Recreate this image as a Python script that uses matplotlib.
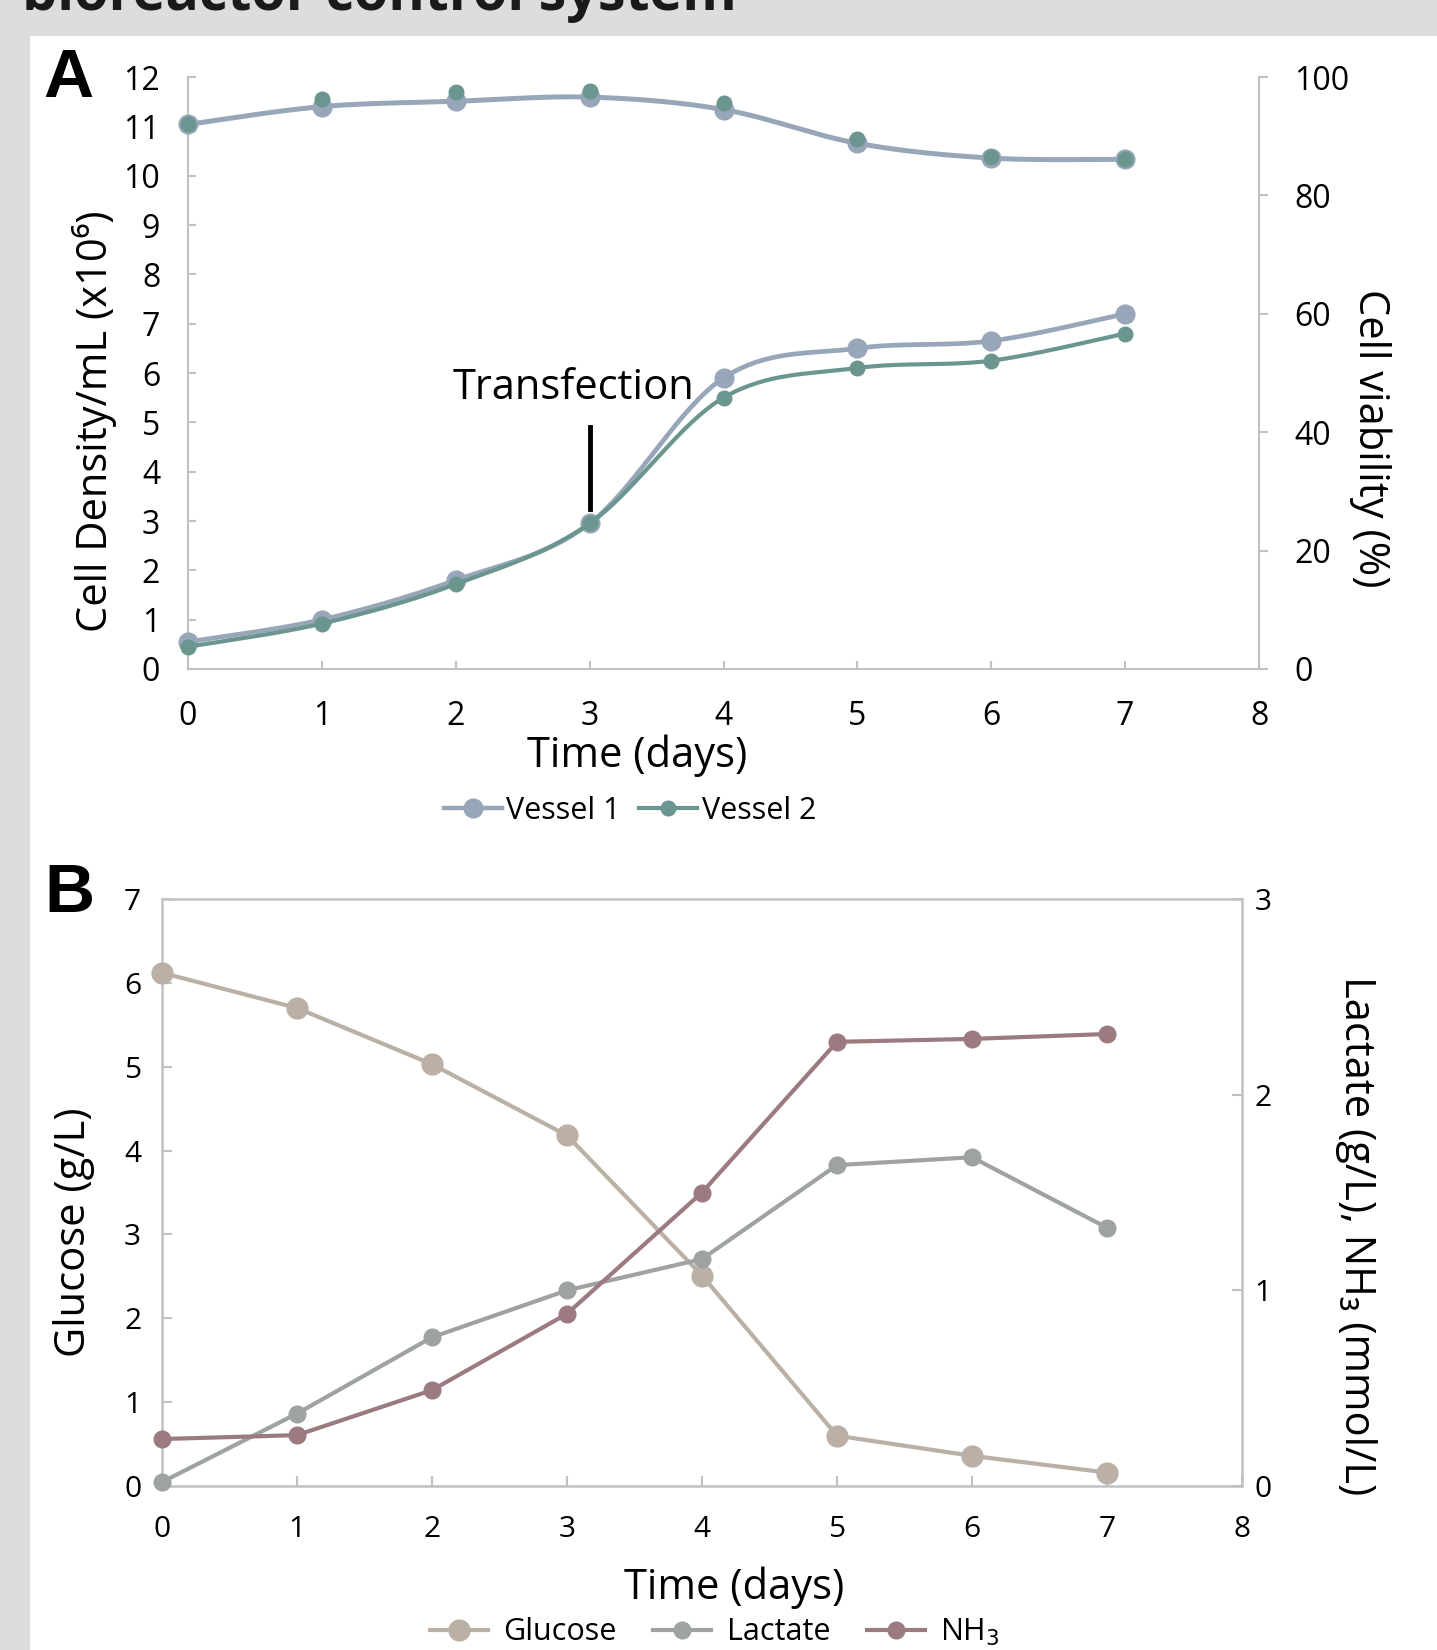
import numpy as np
import matplotlib.pyplot as plt
from matplotlib.patches import Rectangle
from matplotlib.lines import Line2D

plt.rcParams['font.family'] = ['Open Sans', 'DejaVu Sans']

# ---- data ----
days = [0, 1, 2, 3, 4, 5, 6, 7]

density_v1 = [0.55, 1.0, 1.8, 2.95, 5.9, 6.5, 6.65, 7.2]
density_v2 = [0.45, 0.92, 1.72, 2.95, 5.5, 6.1, 6.25, 6.8]
viab_v1 = [92.0, 95.0, 95.9, 96.6, 94.5, 88.8, 86.3, 86.1]
viab_v2 = [92.0, 96.3, 97.5, 97.7, 95.6, 89.5, 86.5, 86.1]

glucose = [6.12, 5.70, 5.03, 4.18, 2.51, 0.60, 0.36, 0.16]
lactate = [0.02, 0.37, 0.76, 1.0, 1.16, 1.64, 1.68, 1.32]
nh3 = [0.24, 0.26, 0.49, 0.88, 1.50, 2.27, 2.285, 2.31]

c_v1 = '#97A6B8'
c_v2 = '#6B968F'
c_glu = '#BBB0A5'
c_lac = '#9EA2A2'
c_nh3 = '#9B7B80'
c_spine = '#BEC2C2'

W, H = 1437, 1650
fig = plt.figure(figsize=(W / 100, H / 100), dpi=100, facecolor='#DCDDDF')
fig.patches.append(Rectangle((30 / W, 0), 1, 1 - 36 / H, transform=fig.transFigure,
                             facecolor='white', edgecolor='none', zorder=-10))


def px(x, y):
    return x / W, 1 - y / H


def smooth(x, y, n=40):
    # smoothed line through the points (Catmull-Rom, like a spreadsheet "smoothed line")
    x = np.asarray(x, float)
    y = np.asarray(y, float)
    qx = np.concatenate([[x[0]], x, [x[-1]]])
    qy = np.concatenate([[y[0]], y, [y[-1]]])
    t = np.linspace(0, 1, n)
    xs, ys = [], []
    for i in range(len(x) - 1):
        p0x, p1x, p2x, p3x = qx[i:i + 4]
        p0y, p1y, p2y, p3y = qy[i:i + 4]
        c1x, c1y = p1x + (p2x - p0x) / 6, p1y + (p2y - p0y) / 6
        c2x, c2y = p2x - (p3x - p1x) / 6, p2y - (p3y - p1y) / 6
        b = [(1 - t) ** 3, 3 * (1 - t) ** 2 * t, 3 * (1 - t) * t ** 2, t ** 3]
        xs.append(b[0] * p1x + b[1] * c1x + b[2] * c2x + b[3] * p2x)
        ys.append(b[0] * p1y + b[1] * c1y + b[2] * c2y + b[3] * p2y)
    return np.concatenate(xs), np.concatenate(ys)


# ---------------- panel A ----------------
axA = fig.add_axes([188 / W, (H - 669) / H, (1259 - 188) / W, 592 / H])
axA.patch.set_alpha(0)
axA.set_xlim(0, 8)
axA.set_ylim(0, 12)
axA.spines['top'].set_visible(False)
axA.spines['right'].set_visible(False)
for s in ['left', 'bottom']:
    axA.spines[s].set_color(c_spine)
    axA.spines[s].set_linewidth(1.5)
axA.set_xticks(range(0, 9))
axA.set_yticks(range(0, 13))
axA.tick_params(axis='both', direction='in', length=6, width=1.5, color=c_spine,
                labelsize=23, pad=20)
axA.tick_params(axis='x', pad=22)

axA2 = axA.twinx()
axA2.set_ylim(0, 100)
axA2.set_yticks(range(0, 101, 20))
for s in ['left', 'top', 'bottom']:
    axA2.spines[s].set_visible(False)
axA2.spines['right'].set_color(c_spine)
axA2.spines['right'].set_linewidth(1.5)
axA2.tick_params(axis='y', direction='out', length=6.5, width=1.5, color=c_spine,
                 labelsize=23, pad=19)

# viability: only the vessel 1 curve shows a line, vessel 2 points sit on it
sx, sy = smooth(days, viab_v1)
axA2.plot(sx, sy, color=c_v1, lw=3.6, zorder=3)
axA2.plot(days, viab_v1, 'o', color=c_v1, ms=13.5, zorder=3, clip_on=False)
axA2.plot(days, viab_v2, 'o', color=c_v2, ms=10.5, zorder=4, clip_on=False)

sx, sy = smooth(days, density_v1)
axA2.plot(sx, np.array(sy) * 100 / 12, color=c_v1, lw=3.4, zorder=2)
axA2.plot(days, np.array(density_v1) * 100 / 12, 'o', color=c_v1, ms=13.5, zorder=3,
          clip_on=False)
sx, sy = smooth(days, density_v2)
axA2.plot(sx, np.array(sy) * 100 / 12, color=c_v2, lw=3, zorder=3)
axA2.plot(days, np.array(density_v2) * 100 / 12, 'o', color=c_v2, ms=10.5, zorder=4,
          clip_on=False)

# transfection marker (left-axis units)
axA.plot([3, 3], [3.25, 4.9], color='black', lw=3.5, zorder=5)
axA.text(2.88, 5.7, 'Transfection', ha='center', va='center', fontsize=30)

fig.text(*px(95, 421), 'Cell Density/mL (x10\u2076)', rotation=90, ha='center',
         va='center', fontsize=30)
fig.text(*px(1370, 438), 'Cell viability (%)', rotation=-90, ha='center',
         va='center', fontsize=30)
fig.text(*px(637, 756), 'Time (days)', ha='center', va='center', fontsize=30)
fig.text(*px(68, 79), 'A', ha='center', va='center', fontsize=50, weight='bold',
         family='Liberation Sans')

hA = [Line2D([], [], color=c_v1, lw=3.2, marker='o', ms=13.5),
      Line2D([], [], color=c_v2, lw=3, marker='o', ms=10.5)]
fig.legend(hA, ['Vessel 1', 'Vessel 2'], loc='center', bbox_to_anchor=px(630, 811),
           ncol=2, frameon=False, fontsize=22, handlelength=1.9, handletextpad=0.15,
           columnspacing=0.6)

# ---------------- panel B ----------------
axB = fig.add_axes([162 / W, (H - 1486) / H, (1242 - 162) / W, 587 / H])
axB.patch.set_alpha(0)
axB.set_xlim(0, 8)
axB.set_ylim(0, 7)
for s in axB.spines.values():
    s.set_color(c_spine)
    s.set_linewidth(1.8)
axB.set_xticks(range(0, 9))
axB.set_yticks(range(0, 8))
axB.tick_params(axis='both', direction='in', length=7, width=1.5, color=c_spine,
                labelsize=21.5)
axB.tick_params(axis='y', pad=15)
axB.tick_params(axis='x', pad=21)

axB2 = axB.twinx()
axB2.set_ylim(0, 3)
axB2.set_yticks(range(0, 4))
for s in axB2.spines.values():
    s.set_visible(False)
axB2.tick_params(axis='y', direction='in', length=7, width=1.5, color=c_spine,
                 labelsize=21.5, pad=9)

axB2.plot(days, np.array(glucose) * 3 / 7, '-o', color=c_glu, lw=3, ms=15, zorder=3,
          clip_on=False)
axB2.plot(days, lactate, '-o', color=c_lac, lw=3, ms=12, zorder=4, clip_on=False)
axB2.plot(days, nh3, '-o', color=c_nh3, lw=3, ms=12, zorder=5, clip_on=False)

fig.text(*px(74, 1232), 'Glucose (g/L)', rotation=90, ha='center', va='center',
         fontsize=30)
fig.text(*px(1356, 1236), 'Lactate (g/L), NH\u2083 (mmol/L)', rotation=-90,
         ha='center', va='center', fontsize=30)
fig.text(*px(734, 1588), 'Time (days)', ha='center', va='center', fontsize=30)
fig.text(*px(69, 894), 'B', ha='center', va='center', fontsize=50, weight='bold',
         family='Liberation Sans')

hB = [Line2D([], [], color=c_glu, lw=3, marker='o', ms=15),
      Line2D([], [], color=c_lac, lw=3, marker='o', ms=12),
      Line2D([], [], color=c_nh3, lw=3, marker='o', ms=12)]
fig.legend(hB, ['Glucose', 'Lactate', 'NH$_3$'], loc='center',
           bbox_to_anchor=px(715, 1632), ncol=3, frameon=False, fontsize=22,
           handlelength=1.9, handletextpad=0.5, columnspacing=1.2)

# title, cut off by the top edge of the screenshot
fig.text(*px(22, 10), 'bioreactor control system', ha='left', va='baseline',
         fontsize=40, weight='bold', color='#1a1a1a')

fig.savefig('out.png', dpi=100, facecolor=fig.get_facecolor())
